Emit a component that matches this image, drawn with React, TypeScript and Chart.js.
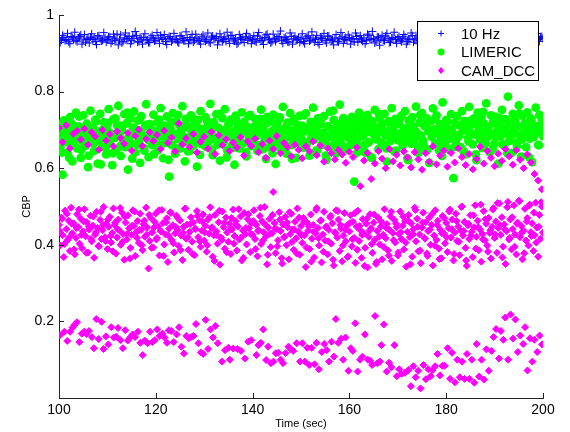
import React, { useEffect, useRef } from "react";
import { Chart, registerables } from "chart.js";

Chart.register(...registerables);

const X_TICKS = [100, 120, 140, 160, 180, 200];
const Y_TICKS = [0.2, 0.4, 0.6, 0.8, 1];
const LEGEND_LABELS = ["10 Hz", "LIMERIC", "CAM_DCC"];
const X_LABEL = "Time (sec)";
const Y_LABEL = "CBP";

// 10 Hz: samples every 0.5 s from t = 100
const hz10 = [
  0.938,0.934,0.941,0.936,0.930,0.944,0.937,0.933,0.940,0.948,0.935,0.929,0.939,0.942,0.936,0.931,0.945,0.938,0.934,0.940,
  0.936,0.943,0.932,0.938,0.950,0.935,0.927,0.940,0.937,0.944,0.933,0.939,0.946,0.931,0.937,0.941,0.935,0.928,0.942,0.938,
  0.934,0.940,0.947,0.936,0.931,0.939,0.943,0.935,0.937,0.930,0.945,0.938,0.933,0.941,0.936,0.949,0.934,0.939,0.932,0.943,
  0.937,0.935,0.929,0.942,0.938,0.944,0.933,0.940,0.936,0.931,0.939,0.946,0.935,0.938,0.927,0.941,0.937,0.943,0.934,0.940,
  0.936,0.932,0.945,0.938,0.934,0.941,0.950,0.935,0.930,0.939,0.937,0.943,0.933,0.940,0.936,0.929,0.944,0.938,0.935,0.941,
  0.937,0.931,0.939,0.946,0.934,0.940,0.936,0.928,0.942,0.938,0.933,0.945,0.937,0.935,0.940,0.931,0.939,0.943,0.936,0.934,
  0.941,0.937,0.930,0.944,0.938,0.935,0.940,0.933,0.947,0.936,0.939,0.932,0.942,0.937,0.934,0.945,0.938,0.929,0.941,0.936,
  0.940,0.934,0.938,0.943,0.931,0.937,0.946,0.935,0.939,0.933,0.941,0.936,0.928,0.944,0.938,0.935,0.942,0.937,0.932,0.940,
  0.936,0.943,0.934,0.939,0.930,0.945,0.937,0.941,0.935,0.938,0.949,0.933,0.940,0.936,0.931,0.942,0.938,0.934,0.944,0.937,
  0.935,0.940,0.932,0.938,0.946,0.936,0.941,0.929,0.939,0.943,0.934,0.937,0.942,0.935,0.940,0.931,0.938,0.945,0.936,0.941,
  0.939,
];
// 10 Hz: interleaved samples every 0.5 s from t = 100.25
const hz10b = [
  0.928,0.947,0.933,0.952,0.925,0.941,0.955,0.930,0.944,0.924,0.949,0.936,0.927,0.951,0.940,0.923,0.946,0.932,0.954,0.929,
  0.943,0.926,0.950,0.934,0.922,0.948,0.931,0.953,0.939,0.925,0.945,0.957,0.929,0.942,0.924,0.951,0.935,0.928,0.947,0.932,
  0.954,0.926,0.940,0.949,0.923,0.944,0.930,0.952,0.937,0.927,0.946,0.933,0.956,0.925,0.941,0.929,0.950,0.934,0.924,0.948,
  0.931,0.953,0.927,0.945,0.938,0.922,0.951,0.930,0.943,0.955,0.926,0.947,0.932,0.924,0.949,0.936,0.928,0.952,0.940,0.925,
  0.946,0.929,0.954,0.933,0.923,0.948,0.937,0.927,0.950,0.931,0.944,0.958,0.926,0.942,0.930,0.953,0.924,0.945,0.935,0.928,
  0.951,0.925,0.943,0.932,0.956,0.929,0.947,0.923,0.939,0.952,0.927,0.945,0.934,0.922,0.949,0.930,0.954,0.926,0.941,0.948,
  0.924,0.938,0.953,0.929,0.946,0.931,0.925,0.950,0.936,0.957,0.927,0.943,0.921,0.947,0.933,0.952,0.928,0.940,0.955,0.926,
  0.944,0.930,0.949,0.924,0.937,0.953,0.929,0.946,0.925,0.951,0.934,0.923,0.948,0.931,0.955,0.927,0.942,0.950,0.926,0.939,
  0.952,0.928,0.945,0.933,0.922,0.949,0.936,0.954,0.929,0.944,0.925,0.950,0.932,0.947,0.924,0.941,0.956,0.930,0.946,0.927,
  0.935,0.951,0.926,0.943,0.953,0.928,0.940,0.924,0.948,0.932,0.955,0.929,0.945,0.923,0.950,0.936,0.927,0.952,0.931,0.944,
];

// LIMERIC: samples every 0.25 s from t = 100
const limeric = [
  0.712,0.655,0.690,0.583,0.725,0.668,0.701,0.640,0.684,0.733,0.662,0.618,0.697,0.676,0.745,0.652,0.709,0.688,0.627,0.671,0.738,0.694,0.659,0.716,0.603,0.682,0.750,0.668,0.705,0.645,0.727,0.691,0.612,0.673,0.742,0.698,0.657,0.720,0.684,0.636,
  0.701,0.754,0.665,0.690,0.608,0.728,0.679,0.646,0.712,0.763,0.687,0.632,0.699,0.674,0.741,0.655,0.718,0.596,0.683,0.731,0.664,0.706,0.748,0.641,0.692,0.725,0.670,0.614,0.736,0.688,0.653,0.709,0.767,0.678,0.629,0.715,0.694,0.660,0.740,0.685,
  0.672,0.719,0.648,0.699,0.757,0.683,0.626,0.711,0.667,0.735,0.692,0.578,0.704,0.661,0.744,0.689,0.638,0.723,0.676,0.714,0.652,0.697,0.762,0.681,0.618,0.729,0.670,0.706,0.645,0.738,0.693,0.659,0.717,0.684,0.604,0.726,0.675,0.749,0.663,0.702,
  0.687,0.733,0.656,0.712,0.671,0.768,0.695,0.634,0.720,0.679,0.741,0.662,0.705,0.620,0.690,0.731,0.668,0.754,0.699,0.647,0.715,0.681,0.727,0.659,0.696,0.609,0.737,0.674,0.710,0.652,0.686,0.746,0.664,0.721,0.693,0.631,0.707,0.677,0.739,0.658,
  0.701,0.668,0.729,0.683,0.645,0.716,0.692,0.753,0.662,0.708,0.676,0.624,0.734,0.689,0.655,0.722,0.697,0.740,0.669,0.611,0.712,0.680,0.727,0.651,0.694,0.760,0.673,0.705,0.638,0.719,0.686,0.744,0.660,0.698,0.728,0.671,0.627,0.713,0.690,0.737,
  0.678,0.711,0.654,0.696,0.743,0.667,0.705,0.633,0.721,0.688,0.758,0.675,0.700,0.646,0.730,0.684,0.715,0.661,0.693,0.736,0.670,0.622,0.709,0.682,0.748,0.657,0.701,0.726,0.674,0.639,0.714,0.690,0.766,0.665,0.703,0.731,0.648,0.695,0.719,0.680,
  0.707,0.660,0.734,0.686,0.565,0.718,0.672,0.699,0.745,0.654,0.712,0.683,0.727,0.641,0.696,0.739,0.668,0.708,0.628,0.723,0.689,0.752,0.676,0.701,0.650,0.731,0.694,0.715,0.663,0.742,0.685,0.617,0.720,0.698,0.671,0.757,0.705,0.644,0.729,0.690,
  0.673,0.716,0.688,0.737,0.659,0.703,0.749,0.681,0.626,0.724,0.695,0.664,0.733,0.708,0.677,0.761,0.692,0.640,0.719,0.685,0.744,0.669,0.710,0.652,0.730,0.697,0.614,0.722,0.682,0.756,0.701,0.666,0.738,0.690,0.647,0.715,0.679,0.772,0.706,0.661,
  0.726,0.684,0.702,0.647,0.741,0.693,0.574,0.718,0.670,0.735,0.687,0.711,0.655,0.749,0.698,0.723,0.636,0.707,0.679,0.760,0.692,0.714,0.662,0.730,0.688,0.621,0.745,0.700,0.675,0.733,0.653,0.717,0.694,0.769,0.681,0.709,0.642,0.738,0.686,0.722,
  0.665,0.734,0.697,0.612,0.719,0.683,0.752,0.706,0.658,0.728,0.690,0.787,0.671,0.715,0.640,0.742,0.699,0.724,0.667,0.709,0.764,0.685,0.630,0.737,0.694,0.718,0.655,0.746,0.703,0.677,0.731,0.616,0.712,0.688,0.758,0.696,0.661,0.739,0.705,0.722,
  0.684,
];
// LIMERIC: interleaved samples every 0.5 s from t = 100.125
const limericB = [
  0.672,0.641,0.705,0.688,0.627,0.716,0.659,0.694,0.735,0.648,0.681,0.709,0.633,0.697,0.664,0.722,0.686,0.610,0.701,0.653,
  0.718,0.676,0.639,0.730,0.692,0.657,0.711,0.668,0.745,0.684,0.625,0.703,0.662,0.726,0.689,0.646,0.714,0.673,0.700,0.637,
  0.693,0.727,0.660,0.708,0.679,0.622,0.720,0.687,0.652,0.739,0.698,0.666,0.713,0.644,0.684,0.731,0.671,0.706,0.635,0.695,
  0.658,0.723,0.690,0.649,0.710,0.677,0.742,0.664,0.699,0.628,0.716,0.683,0.654,0.725,0.691,0.667,0.704,0.641,0.736,0.680,
  0.707,0.663,0.694,0.729,0.650,0.688,0.719,0.675,0.639,0.702,0.661,0.733,0.696,0.656,0.712,0.682,0.624,0.721,0.689,0.668,
  0.697,0.738,0.659,0.706,0.678,0.716,0.645,0.692,0.727,0.670,0.633,0.709,0.686,0.750,0.663,0.700,0.679,0.724,0.654,0.693,
  0.715,0.672,0.702,0.641,0.731,0.688,0.660,0.719,0.695,0.627,0.708,0.676,0.741,0.666,0.698,0.652,0.723,0.685,0.710,0.646,
  0.690,0.733,0.669,0.704,0.621,0.718,0.681,0.696,0.657,0.739,0.674,0.711,0.648,0.700,0.686,0.728,0.663,0.707,0.632,0.694,
  0.722,0.677,0.699,0.655,0.736,0.684,0.712,0.643,0.703,0.670,0.725,0.689,0.636,0.714,0.680,0.747,0.665,0.705,0.691,0.651,
  0.717,0.683,0.730,0.662,0.701,0.639,0.721,0.687,0.706,0.657,0.743,0.675,0.713,0.694,0.629,0.726,0.682,0.709,0.660,0.734,
];

// CAM_DCC upper band: every 0.75 s from t = 100
const camUpper = [
  0.705,0.668,0.712,0.652,0.690,0.698,0.675,0.703,0.661,0.694,0.683,0.648,0.700,0.672,0.689,0.657,0.696,0.679,0.664,0.692,0.646,0.684,0.701,0.658,0.676,0.694,0.671,
  0.687,0.650,0.698,0.666,0.680,0.644,0.717,0.662,0.678,0.655,0.689,0.641,0.669,0.682,0.651,0.695,0.637,0.686,0.660,0.676,0.645,0.667,0.654,0.681,0.633,0.670,0.658,
  0.677,0.642,0.663,0.627,0.672,0.650,0.684,0.639,0.666,0.655,0.631,0.661,0.648,0.626,0.657,0.644,0.670,0.634,0.659,0.617,0.652,0.639,0.623,0.648,0.636,0.614,0.643,
  0.629,0.654,0.553,0.620,0.640,0.572,0.612,0.645,0.625,0.600,0.650,0.618,0.635,0.607,0.644,0.628,0.602,0.642,0.623,0.596,0.639,0.617,0.657,0.610,0.633,0.646,0.604,
  0.640,0.615,0.652,0.629,0.608,0.637,0.597,0.624,0.656,0.612,0.645,0.627,0.605,0.638,0.619,0.650,0.631,0.609,0.647,0.622,0.600,0.636,0.615,0.585,0.568,0.545,
];

// CAM_DCC middle band: every 0.25 s from t = 100
const camMiddle = [
  0.452,0.398,0.471,0.425,0.368,0.489,0.441,0.412,0.463,0.384,0.497,0.430,0.456,0.375,0.418,0.480,0.446,0.403,0.468,0.391,0.435,0.493,0.422,0.459,0.380,0.440,0.476,0.409,0.450,0.366,0.427,0.486,0.444,0.396,0.465,0.415,0.438,0.499,0.420,0.455,
  0.389,0.447,0.473,0.406,0.431,0.495,0.452,0.377,0.419,0.466,0.437,0.400,0.484,0.428,0.361,0.458,0.414,0.477,0.443,0.392,0.426,0.490,0.449,0.371,0.433,0.462,0.405,0.481,0.439,0.386,0.454,0.421,0.497,0.445,0.338,0.410,0.470,0.432,0.393,0.460,
  0.482,0.418,0.448,0.372,0.436,0.491,0.457,0.401,0.427,0.469,0.355,0.442,0.485,0.413,0.451,0.380,0.430,0.476,0.439,0.397,0.463,0.424,0.360,0.447,0.494,0.416,0.453,0.387,0.434,0.472,0.408,0.458,0.373,0.441,0.488,0.420,0.464,0.395,0.437,0.479,
  0.411,0.450,0.382,0.466,0.429,0.498,0.444,0.369,0.425,0.478,0.435,0.403,0.459,0.348,0.419,0.487,0.446,0.390,0.471,0.432,0.408,0.455,0.376,0.440,0.492,0.423,0.462,0.385,0.448,0.414,0.474,0.359,0.437,0.483,0.428,0.401,0.467,0.443,0.381,0.456,
  0.426,0.490,0.415,0.452,0.370,0.438,0.475,0.402,0.461,0.433,0.499,0.421,0.349,0.445,0.468,0.394,0.430,0.538,0.457,0.378,0.441,0.412,0.485,0.436,0.365,0.453,0.420,0.473,0.399,0.446,0.362,0.428,0.481,0.440,0.387,0.460,0.417,0.495,0.434,0.374,
  0.449,0.405,0.470,0.425,0.342,0.458,0.437,0.389,0.479,0.416,0.452,0.367,0.430,0.496,0.444,0.398,0.463,0.354,0.427,0.486,0.411,0.448,0.375,0.439,0.472,0.403,0.456,0.346,0.433,0.490,0.419,0.466,0.384,0.442,0.357,0.424,0.483,0.409,0.451,0.370,
  0.435,0.477,0.396,0.460,0.418,0.353,0.447,0.489,0.410,0.438,0.366,0.467,0.429,0.392,0.455,0.341,0.421,0.480,0.443,0.379,0.458,0.413,0.350,0.436,0.470,0.401,0.448,0.362,0.426,0.493,0.417,0.454,0.385,0.439,0.474,0.358,0.431,0.465,0.406,0.446,
  0.372,0.428,0.487,0.415,0.450,0.388,0.462,0.343,0.434,0.478,0.420,0.456,0.369,0.441,0.497,0.409,0.468,0.383,0.427,0.352,0.445,0.484,0.418,0.459,0.377,0.436,0.471,0.400,0.452,0.346,0.424,0.490,0.413,0.463,0.390,0.440,0.365,0.475,0.430,0.404,
  0.457,0.381,0.443,0.492,0.419,0.466,0.359,0.432,0.481,0.410,0.448,0.373,0.437,0.500,0.424,0.460,0.392,0.345,0.451,0.415,0.477,0.434,0.368,0.446,0.503,0.421,0.463,0.386,0.439,0.356,0.428,0.488,0.412,0.455,0.398,0.470,0.431,0.364,0.447,0.496,
  0.418,0.461,0.379,0.444,0.508,0.426,0.472,0.395,0.453,0.350,0.436,0.512,0.414,0.466,0.388,0.441,0.503,0.427,0.375,0.458,0.515,0.420,0.449,0.362,0.437,0.494,0.411,0.470,0.398,0.505,0.433,0.456,0.384,0.425,0.510,0.445,0.369,0.478,0.416,0.500,
  0.432,
];
// CAM_DCC middle band: interleaved samples every 0.5 s from t = 100.125
const camMiddleB = [
  0.437,0.468,0.402,0.481,0.419,0.455,0.388,0.444,0.492,0.426,0.461,0.379,0.448,0.415,0.474,0.433,0.397,0.486,0.452,0.410,
  0.466,0.423,0.383,0.458,0.441,0.496,0.407,0.473,0.429,0.364,0.450,0.487,0.418,0.439,0.399,0.463,0.427,0.478,0.392,0.445,
  0.414,0.490,0.435,0.371,0.459,0.424,0.483,0.404,0.447,0.469,0.386,0.431,0.495,0.420,0.454,0.376,0.442,0.476,0.409,0.461,
  0.432,0.399,0.472,0.446,0.358,0.425,0.489,0.413,0.457,0.381,0.438,0.470,0.403,0.451,0.493,0.419,0.366,0.444,0.480,0.428,
  0.462,0.389,0.436,0.497,0.411,0.453,0.374,0.429,0.478,0.443,0.396,0.466,0.351,0.421,0.458,0.485,0.407,0.440,0.377,0.471,
  0.425,0.460,0.393,0.448,0.356,0.434,0.491,0.417,0.464,0.382,0.445,0.409,0.476,0.361,0.430,0.488,0.452,0.398,0.439,0.368,
  0.457,0.415,0.483,0.387,0.449,0.426,0.345,0.468,0.437,0.402,0.479,0.355,0.421,0.460,0.394,0.444,0.372,0.486,0.412,0.455,
  0.380,0.433,0.474,0.406,0.463,0.349,0.427,0.491,0.447,0.385,0.458,0.416,0.371,0.439,0.481,0.398,0.452,0.363,0.430,0.469,
  0.420,0.487,0.441,0.376,0.462,0.408,0.499,0.436,0.359,0.454,0.425,0.477,0.390,0.446,0.505,0.414,0.467,0.382,0.438,0.492,
  0.427,0.509,0.451,0.367,0.440,0.498,0.418,0.472,0.395,0.455,0.514,0.432,0.378,0.461,0.502,0.423,0.484,0.406,0.447,0.511,
];

// CAM_DCC lower band: times and values
const camLowTime = [
  100.2,101.1,101.7,102.3,102.8,103.2,103.7,104.2,104.7,105.2,105.7,106.2,106.8,107.2,107.7,108.2,108.8,109.2,109.7,110.2,
  110.8,111.3,111.8,112.2,112.7,113.2,113.7,114.2,114.7,115.2,115.7,116.3,116.8,117.3,117.7,118.3,118.8,119.3,119.8,120.3,
  120.8,121.4,121.8,122.3,122.7,123.2,123.7,124.3,124.8,125.3,125.8,126.3,126.8,127.3,127.8,128.3,128.8,129.3,129.8,130.3,
  130.8,131.3,131.8,132.3,132.8,
  133.7,134.3,135.0,135.3,136.0,136.9,137.6,138.4,139.1,139.7,140.8,141.2,141.7,142.2,142.8,143.2,143.8,144.3,144.8,145.3,
  145.8,146.3,146.8,147.4,147.9,148.4,149.1,149.8,150.3,150.8,151.3,151.7,152.2,152.8,153.2,153.7,154.3,154.8,155.3,155.8,
  156.3,156.8,157.2,157.7,158.3,158.7,159.2,159.8,160.3,160.7,161.2,161.7,162.2,162.7,163.2,163.8,164.3,164.7,165.3,165.8,
  166.3,166.6,167.1,167.7,168.2,168.7,169.3,169.8,170.3,170.8,171.5,172.2,172.7,173.2,173.7,174.2,174.7,175.3,175.8,176.3,
  176.8,177.2,177.7,178.2,178.7,179.2,179.7,180.3,180.8,181.2,181.8,182.3,182.8,183.3,183.8,184.3,184.8,185.3,185.8,186.3,
  186.8,187.3,187.8,188.3,188.8,189.4,189.8,190.3,190.9,191.3,191.8,192.2,192.8,193.3,193.8,194.3,194.8,195.3,195.9,196.3,
  196.8,197.3,197.8,198.2,198.8,199.3,199.8,
];
const camLowValue = [
  0.164,0.173,0.149,0.173,0.184,0.191,0.198,0.146,0.168,0.173,0.167,0.175,0.159,0.130,0.206,0.154,0.199,0.128,0.161,0.140,
  0.185,0.158,0.160,0.183,0.151,0.130,0.177,0.150,0.158,0.166,0.159,0.173,0.144,0.112,0.150,0.143,0.173,0.146,0.151,0.179,
  0.162,0.168,0.158,0.144,0.177,0.175,0.146,0.166,0.185,0.134,0.116,0.162,0.156,0.159,0.162,0.193,0.143,0.119,0.115,0.204,
  0.128,0.179,0.158,0.188,0.143,
  0.095,0.125,0.131,0.100,0.129,0.128,0.123,0.103,0.147,0.151,0.112,0.138,0.144,0.179,0.099,0.134,0.091,0.095,0.117,0.118,
  0.100,0.091,0.117,0.134,0.127,0.123,0.143,0.095,0.143,0.095,0.131,0.086,0.131,0.088,0.144,0.075,0.120,0.141,0.125,0.095,
  0.147,0.108,0.206,0.144,0.155,0.100,0.158,0.071,0.130,0.123,0.195,0.069,0.100,0.108,0.166,0.100,0.097,0.086,0.214,0.091,
  0.095,0.138,0.192,0.069,0.092,0.080,0.138,0.057,0.075,0.063,0.066,0.073,0.031,0.083,0.054,0.071,0.025,0.086,0.049,0.075,
  0.057,0.073,0.083,0.115,0.059,0.084,0.084,0.130,0.050,0.118,0.041,0.100,0.054,0.095,0.050,0.115,0.050,0.100,0.040,0.141,
  0.056,0.100,0.048,0.127,0.071,0.123,0.159,0.180,0.103,0.175,0.152,0.210,0.100,0.218,0.155,0.205,0.120,0.163,0.141,0.185,
  0.072,0.156,0.095,0.152,0.120,0.163,0.140,
];

const BLUE = "#0000ff";
const GREEN = "#00ff00";
const MAGENTA = "#ff00ff";
const FONT = "'Liberation Sans', Arial, Helvetica, sans-serif";

function sampled(values: number[], start: number, step: number) {
  return values.map((v, i) => ({ x: start + i * step, y: v }));
}

const decorPlugin = {
  id: "matlabDecor",
  afterDraw(chart: any) {
    const { ctx, chartArea: a, scales } = chart;
    ctx.save();
    ctx.strokeStyle = "#222";
    ctx.lineWidth = 1;
    for (const t of X_TICKS) {
      const px = Math.round(scales.x.getPixelForValue(t)) + 0.5;
      ctx.beginPath();
      ctx.moveTo(px, a.bottom);
      ctx.lineTo(px, a.bottom - 5);
      ctx.stroke();
    }
    for (const t of Y_TICKS) {
      const py = Math.round(scales.y.getPixelForValue(t)) + 0.5;
      ctx.beginPath();
      ctx.moveTo(a.left, py);
      ctx.lineTo(a.left + 5, py);
      ctx.stroke();
    }
    ctx.fillStyle = "#000";
    ctx.font = `11px ${FONT}`;
    ctx.textAlign = "center";
    ctx.textBaseline = "middle";
    ctx.fillText(X_LABEL, (a.left + a.right) / 2, a.bottom + 26);
    ctx.save();
    ctx.translate(a.left - 32, (a.top + a.bottom) / 2);
    ctx.rotate(-Math.PI / 2);
    ctx.fillText(Y_LABEL, 0, 0);
    ctx.restore();

    const w = 121, h = 59;
    const lx = Math.round(a.right - 5 - w);
    const ly = Math.round(a.top + 6);
    ctx.fillStyle = "#fff";
    ctx.fillRect(lx, ly, w, h);
    ctx.strokeStyle = "#000";
    ctx.strokeRect(lx + 0.5, ly + 0.5, w, h);
    const mx = lx + 24;
    const tx = lx + 44;
    const rows = [ly + 12.5, ly + 31, ly + 49.5];
    ctx.strokeStyle = BLUE;
    ctx.beginPath();
    ctx.moveTo(mx - 3, rows[0]);
    ctx.lineTo(mx + 3, rows[0]);
    ctx.moveTo(mx, rows[0] - 3);
    ctx.lineTo(mx, rows[0] + 3);
    ctx.stroke();
    ctx.fillStyle = GREEN;
    ctx.beginPath();
    ctx.arc(mx, rows[1], 3.5, 0, Math.PI * 2);
    ctx.fill();
    ctx.fillStyle = MAGENTA;
    ctx.beginPath();
    ctx.moveTo(mx, rows[2] - 3.5);
    ctx.lineTo(mx + 3, rows[2]);
    ctx.lineTo(mx, rows[2] + 3.5);
    ctx.lineTo(mx - 3, rows[2]);
    ctx.closePath();
    ctx.fill();
    ctx.fillStyle = "#000";
    ctx.font = `15px ${FONT}`;
    ctx.textAlign = "left";
    ctx.textBaseline = "middle";
    LEGEND_LABELS.forEach((lab, i) => ctx.fillText(lab, tx, rows[i] + 1));
    ctx.restore();
  },
};

export default function App() {
  const ref = useRef<HTMLCanvasElement | null>(null);
  useEffect(() => {
    if (!ref.current) return;
    Chart.defaults.font.family = FONT;
    const hzData = [...sampled(hz10, 100, 0.5), ...sampled(hz10b, 100.25, 0.5)];
    const limData = [...sampled(limeric, 100, 0.25), ...sampled(limericB, 100.125, 0.5)];
    const camData = [
      ...sampled(camUpper, 100, 0.75),
      ...sampled(camMiddle, 100, 0.25),
      ...sampled(camMiddleB, 100.125, 0.5),
      ...camLowTime.map((t, i) => ({ x: t, y: camLowValue[i] })),
    ];
    const chart = new Chart(ref.current, {
      type: "scatter",
      data: {
        datasets: [
          {
            label: LEGEND_LABELS[2],
            data: camData,
            pointStyle: "rectRot",
            pointRadius: 3.5,
            backgroundColor: MAGENTA,
            borderColor: MAGENTA,
            borderWidth: 1,
            order: 0,
          },
          {
            label: LEGEND_LABELS[1],
            data: limData,
            pointStyle: "circle",
            pointRadius: 4.4,
            backgroundColor: GREEN,
            borderColor: GREEN,
            borderWidth: 0,
            order: 1,
          },
          {
            label: LEGEND_LABELS[0],
            data: hzData,
            pointStyle: "cross",
            pointRadius: 4,
            backgroundColor: BLUE,
            borderColor: BLUE,
            borderWidth: 1,
            order: 2,
          },
        ],
      },
      options: {
        animation: false,
        responsive: false,
        events: [],
        layout: { padding: { top: 15, right: 27, left: 0, bottom: 0 } },
        plugins: { legend: { display: false }, tooltip: { enabled: false } },
        scales: {
          x: {
            type: "linear",
            min: 100,
            max: 200,
            afterBuildTicks: (s: any) => { s.ticks = X_TICKS.map((v) => ({ value: v })); },
            afterFit: (s: any) => { s.height = 34; },
            grid: { display: false, drawTicks: false },
            border: { display: true, color: "#222", width: 1 },
            ticks: { color: "#000", font: { size: 14, family: FONT }, padding: 4, maxRotation: 0, autoSkip: false },
          },
          y: {
            type: "linear",
            min: 0,
            max: 1,
            afterBuildTicks: (s: any) => { s.ticks = Y_TICKS.map((v) => ({ value: v })); },
            afterFit: (s: any) => { s.width = 59; },
            grid: { display: false, drawTicks: false },
            border: { display: true, color: "#222", width: 1 },
            ticks: {
              color: "#000",
              font: { size: 14, family: FONT },
              padding: 5,
              autoSkip: false,
              callback: (v: any) => String(Math.round(Number(v) * 10) / 10),
            },
          },
        },
      },
      plugins: [decorPlugin],
    });
    return () => chart.destroy();
  }, []);
  return (
    <div style={{ position: "fixed", left: 0, top: 0, width: 570, height: 432, background: "#fff" }}>
      <canvas ref={ref} width={570} height={432} style={{ display: "block" }} />
    </div>
  );
}
